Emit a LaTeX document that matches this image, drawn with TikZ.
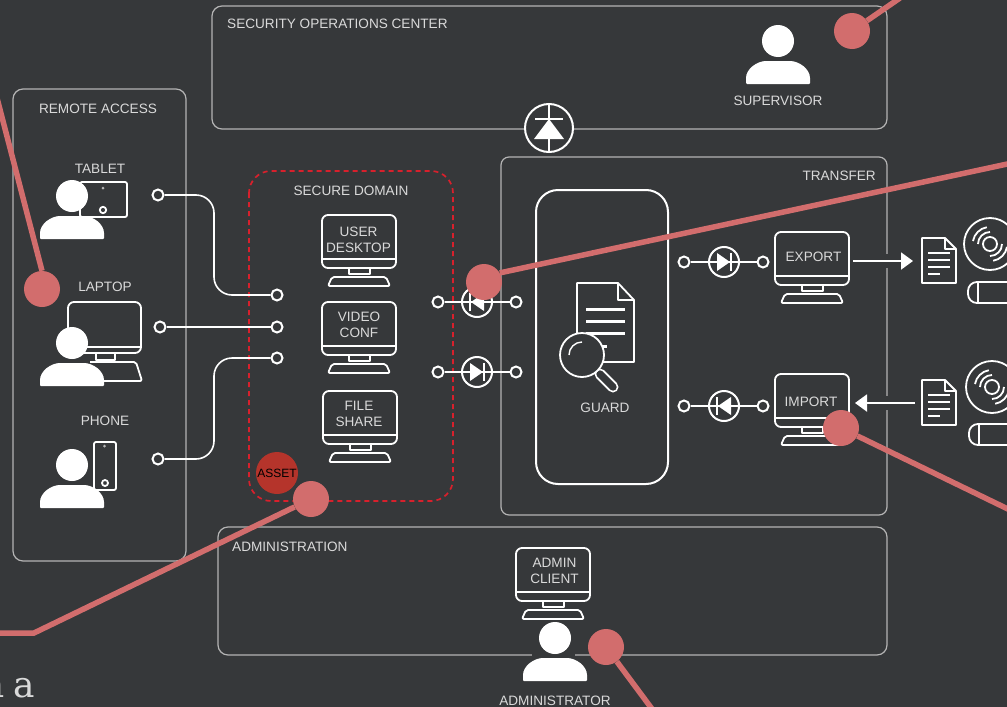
\documentclass[tikz,border=0pt]{standalone}
\usepackage{fontspec}
\setmainfont{Liberation Sans}
\newfontfamily\slabfont{DejaVu Serif}
\usetikzlibrary{arrows.meta}

\definecolor{bgc}{HTML}{36383A}
\definecolor{txtc}{HTML}{DADADA}
\definecolor{edgec}{HTML}{B4B4B4}
\definecolor{zonec}{HTML}{D8202C}
\definecolor{markc}{HTML}{D26D6D}
\definecolor{assetc}{HTML}{B5342B}

\tikzset{
  lbl/.style={text=txtc, font=\fontsize{13.6}{16}\selectfont, inner sep=0pt, align=center},
  zone/.style={draw=edgec, line width=1.2pt, rounded corners=10pt},
  icon/.style={draw=white, line width=1.8pt, line join=round},
  wire/.style={draw=white, line width=1.6pt},
  port/.style={circle, draw=white, line width=2pt, fill=bgc, minimum size=11pt, inner sep=0pt},
  ring/.style={circle, draw=white, line width=2pt, minimum size=30pt, inner sep=0pt},
  gap/.style={draw=bgc, line width=14pt},
  flow/.style={draw=white, line width=2pt, shorten >=2pt, -{Triangle[length=12pt,width=17pt]}},
  note/.style={circle, fill=markc, minimum size=36pt, inner sep=0pt},
  noteline/.style={draw=markc, line width=5.5pt},
  pics/monitor/.style={code={
    \draw[icon, rounded corners=6pt] (-37,0) rectangle (37,53);
    \draw[icon] (-37,44) -- (37,44);
    \draw[icon] (-10,53) -- (-10,59) -- (11,59) -- (11,53);
    \draw[icon, rounded corners=2pt] (-27,62) -- (27,62) -- (31,71) -- (-31,71) -- cycle;
    \coordinate (-r) at (41,29);
  }},
  pics/person/.style={code={
    \fill[white] (0,0) circle (16);
    \fill[white, rounded corners=1pt] (-32,43) -- (-32,38) .. controls (-32,28) and (-21,20) .. (-11,20)
      -- (11,20) .. controls (21,20) and (32,28) .. (32,38) -- (32,43) -- cycle;
  }},
  pics/doc/.style={code={
    \draw[icon] (0,0) -- (23,0) -- (34,11) -- (34,45) -- (0,45) -- cycle;
    \draw[icon] (23,0) -- (23,11) -- (34,11);
    \draw[icon] (6,15) -- (28,15) (6,22) -- (28,22) (6,29) -- (28,29) (6,36) -- (18,36);
    \coordinate (-l) at (-7,23);
  }},
  pics/disc/.style={code={
    \draw[icon] (0,0) circle (26);
    \draw[icon] (0,0) circle (7);
    \draw[icon] (-12,0) arc[start angle=180, end angle=270, radius=12];
    \draw[icon] (-17,-3) arc[start angle=190, end angle=260, radius=17];
    \draw[icon] (12,0) arc[start angle=0, end angle=90, radius=12];
    \draw[icon] (17,3) arc[start angle=10, end angle=80, radius=17];
  }},
  pics/stick/.style={code={
    \draw[icon, rounded corners=9pt] (50,0) -- (0,0) -- (0,21) -- (50,21);
    \draw[icon] (10,0) -- (10,21);
  }},
  pics/diodemark/.style={code={
    \fill[white] (-7,-9) -- (6,0) -- (-7,9) -- cycle;
    \draw[white, line width=1.8pt] (7,-9) -- (7,9);
  }},
}

\begin{document}
\begin{tikzpicture}[x=1pt, y=-1pt]

  \fill[bgc] (0,0) rectangle (1007,707);
  \useasboundingbox (0,0) rectangle (1007,707);

  % zones
  \draw[zone] (212,6) rectangle (887,129);
  \draw[zone] (13,89) rectangle (186,561);
  \draw[zone, rounded corners=8pt] (501,157) rectangle (887,515);
  \draw[zone] (218,527) rectangle (887,655);
  \draw[draw=zonec, line width=1.7pt, dash pattern=on 5pt off 4pt, rounded corners=22pt] (249,171) rectangle (453,501);
  \draw[draw=white, line width=2pt, rounded corners=22pt] (536,190) rectangle (668,484);

  % zone titles
  \node[lbl, anchor=west] (soc) at (227,23.5) {SECURITY OPERATIONS CENTER};
  \node[lbl] (remote) at (98,108.5) {REMOTE ACCESS};
  \node[lbl] (secure) at (351,190.5) {SECURE DOMAIN};
  \node[lbl, anchor=east] (transfer) at (876,175.5) {TRANSFER};
  \node[lbl, anchor=west] (admin) at (232,546.5) {ADMINISTRATION};

  % remote devices
  \node[lbl] (tablet) at (100,168.5) {TABLET};
  \draw[icon, rounded corners=2pt] (80,182) rectangle (127,217);
  \fill[edgec] (103,188) circle (1.5);
  \draw[icon] (103,210) circle (3.2);
  \pic at (72,196) {person};

  \node[lbl] (laptop) at (105,286.5) {LAPTOP};
  \draw[icon, rounded corners=6pt] (68,302) rectangle (141,353);
  \draw[icon] (68,347) -- (141,347);
  \draw[icon] (96,353) -- (96,360) -- (115,360) -- (115,353);
  \draw[icon, rounded corners=2pt] (90,362) -- (136,362) -- (142,381) -- (90,381);
  \pic at (72,343) {person};

  \node[lbl] (phone) at (105,420.5) {PHONE};
  \draw[icon, rounded corners=2pt] (94,442) rectangle (116,490);
  \fill[edgec] (104.5,446) circle (1.5);
  \draw[icon] (105,483) circle (3);
  \pic at (72,465) {person};

  % monitors
  \pic (desk) at (359,215) {monitor};
  \node[lbl] (deskt) at (358.5,239.5) {USER\\DESKTOP};
  \pic (video) at (359,302) {monitor};
  \node[lbl] (videot) at (359,324.5) {VIDEO\\CONF};
  \pic (share) at (360,391) {monitor};
  \node[lbl] (sharet) at (359,413.5) {FILE\\SHARE};
  \pic (export) at (812,232) {monitor};
  \node[lbl] (exportt) at (813.5,256.5) {EXPORT};
  \pic (import) at (812,374) {monitor};
  \node[lbl] (importt) at (811,401.5) {IMPORT};
  \pic (client) at (553,548) {monitor};
  \node[lbl] (clientt) at (554.5,570.5) {ADMIN\\CLIENT};

  % people
  \pic at (778,41) {person};
  \node[lbl] (supervisor) at (778,100.5) {SUPERVISOR};
  \fill[bgc] (532,650) rectangle (575,660);
  \pic at (555,638) {person};
  \node[lbl] (administrator) at (555,700.5) {ADMINISTRATOR};

  % ports
  \begin{scope}[every node/.style={port}]
    \node (ptablet) at (158,195) {};
    \node (plaptop) at (160,327) {};
    \node (pphone) at (158,459) {};
    \node (pa) at (277,295) {};
    \node (pb) at (277,327) {};
    \node (pc) at (277,358) {};
    \node (pd) at (438,302) {};
    \node (pe) at (516,302) {};
    \node (pf) at (438,372) {};
    \node (pg) at (516,372) {};
    \node (ph) at (684,262) {};
    \node (pi) at (763,262) {};
    \node (pj) at (684,406) {};
    \node (pk) at (763,406) {};
  \end{scope}

  \coordinate (busa) at (214,245);
  \coordinate (busb) at (214,400);

  \begin{scope}[every path/.style={wire}]
    \draw[rounded corners=18pt] (ptablet) -| (busa) |- (pa);
    \draw (plaptop) -- (pb);
    \draw[rounded corners=18pt] (pphone) -| (busb) |- (pc);
    \draw (pd) -- (pe);
    \draw (pf) -- (pg);
    \draw (ph) -- (pi);
    \draw (pj) -- (pk);
  \end{scope}

  % diodes
  \node[ring] (din) at (477,302) {};
  \node[ring] (dout) at (477,372) {};
  \node[ring] (dexp) at (724,262) {};
  \node[ring] (dimp) at (724,406) {};
  \pic[rotate=180] at (din) {diodemark};
  \pic at (dout) {diodemark};
  \pic at (dexp) {diodemark};
  \pic[rotate=180] at (dimp) {diodemark};

  \node[circle, draw=white, line width=2pt, fill=bgc, minimum size=48pt, inner sep=0pt,
        outer sep=0pt] (dsoc) at (549,128) {};
  \coordinate (dsoctop) at (549,104);
  \coordinate (dsocbot) at (549,152);
  \draw[wire] (dsoctop) -- (dsocbot);
  \fill[white] (549,119) -- (564,139) -- (534,139) -- cycle;
  \draw[white, line width=1.8pt] (535,119) -- (563,119);

  % guard
  \draw[icon] (577,283) -- (618,283) -- (634,300) -- (634,362) -- (577,362) -- cycle;
  \draw[icon] (618,283) -- (618,300) -- (634,300);
  \draw[white, line width=3pt] (586,309) -- (625,309) (586,321) -- (625,321) (586,333) -- (625,333) (586,346) -- (607,346);
  \draw[white, line width=11pt, line cap=round] (600,374) -- (613,387);
  \draw[bgc, line width=7.4pt, line cap=round] (600,374) -- (613,387);
  \draw[icon, fill=bgc] (582,355) circle (22);
  \draw[white, line width=1.4pt] (569,355) arc[start angle=180, end angle=270, radius=13];
  \node[lbl] (guard) at (605,407.5) {GUARD};

  % media
  \pic (docexp) at (922,238) {doc};
  \pic (docimp) at (922,380) {doc};
  \pic at (990,244) {disc};
  \pic at (992,387) {disc};
  \pic at (968,282) {stick};
  \pic at (969,424) {stick};

  \draw[gap] (export-r) -- (docexp-l);
  \draw[gap] (docimp-l) -- (import-r);
  \draw[flow] (export-r) -- (docexp-l);
  \draw[flow] (docimp-l) -- (import-r);

  % asset
  \node[circle, fill=assetc, minimum size=42pt, inner sep=0pt, text=black,
        font=\fontsize{12}{13}\selectfont] (asset) at (277,473) {ASSET};

  % notes
  \begin{scope}[every node/.style={note}]
    \node (n1) at (852,31) {};
    \node (n2) at (42,289) {};
    \node (n3) at (484,282) {};
    \node (n4) at (841,428) {};
    \node (n5) at (311,499) {};
    \node (n6) at (606,647) {};
  \end{scope}
  \coordinate (e1) at (900,-2);
  \coordinate (e2) at (-3,98);
  \coordinate (e3) at (1012,163);
  \coordinate (e4) at (1012,511);
  \coordinate (e5) at (34,633);
  \coordinate (e6) at (-5,633);
  \coordinate (e7) at (658,717);
  \begin{scope}[every path/.style={noteline}]
    \draw (n1) -- (e1);
    \draw (n2.north) -- (e2);
    \draw (n3.30) -- (e3);
    \draw (n4) -- (e4);
    \draw (n5) -- (e5) -- (e6);
    \draw (n6) -- (e7);
  \end{scope}

  \node[text=txtc, font=\slabfont\fontsize{36}{40}\selectfont, anchor=base east, inner sep=0pt] (cut) at (35,697) {n\hspace{-3pt} a};

\end{tikzpicture}
\end{document}
